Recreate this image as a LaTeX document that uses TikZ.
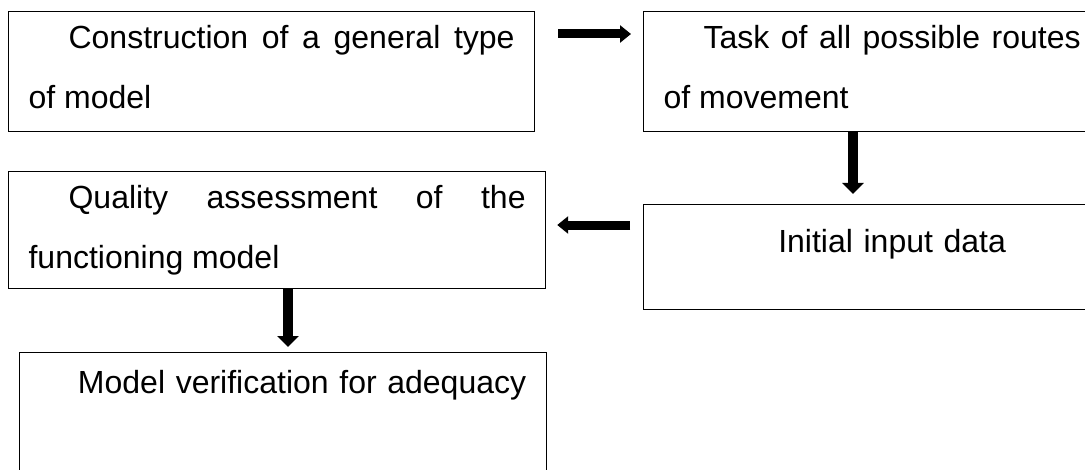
\documentclass[tikz,border=0pt]{standalone}
\usepackage{fontspec}
\setmainfont{Liberation Sans}
\usetikzlibrary{arrows.meta}

\begin{document}
\begin{tikzpicture}[
    box/.style={draw, line width=0.6pt, anchor=north west, inner xsep=10pt, inner ysep=0pt,
      text height=18.5pt, font=\fontsize{16pt}{30pt}\selectfont},
    fat/.style={line width=4.75pt, -{Triangle[length=5.5pt, width=10.5pt]}},
    fatside/.style={line width=4.5pt, -{Triangle[length=5.5pt, width=8.5pt]}}]
    \useasboundingbox (0,0) rectangle (542.5pt,-235pt);
    \clip (0,0) rectangle (542.5pt,-235pt);

    % Boxes
    \node[box, text width=243pt, text depth=41.5pt, align=justify] (construct) at (4pt,-5.5pt)
        {\hspace*{20pt}Construction of a general type\linebreak of model};
    \node[box, text width=208.5pt, text depth=41.5pt, align=justify] (routes) at (321.5pt,-5.5pt)
        {\hspace*{20pt}Task of all possible routes\linebreak of movement};
    \node[box, text width=208.5pt, text height=24pt, text depth=28.5pt, align=center] (inputdata) at (321.5pt,-102pt)
        {\hspace*{20pt}\mbox{Initial input data}};
    \node[box, text width=248.5pt, text depth=40pt, align=justify] (quality) at (4pt,-85.5pt)
        {\hspace*{20pt}Quality assessment of the\linebreak functioning model};
    \node[box, text width=243.5pt, text height=20.5pt, text depth=53.5pt, align=center] (verify) at (9.5pt,-176pt)
        {\hspace*{19pt}\mbox{Model verification for adequacy}};

    % Arrows
    \draw[fatside, shorten <=11.5pt, shorten >=6pt] ([yshift=-11.5pt]construct.north east) -- ([yshift=-11.5pt]routes.north west);
    \draw[fat, shorten >=5pt] ([xshift=105pt]routes.south west) -- ([xshift=105pt]routes.south west |- inputdata.north);
    \draw[fatside, shorten <=6.5pt, shorten >=5.5pt] ([yshift=-10.5pt]inputdata.north west) -- ([yshift=-10.5pt]inputdata.north west -| quality.east);
    \draw[fat, shorten >=2.5pt] ([xshift=140pt]quality.south west) -- ([xshift=140pt]quality.south west |- verify.north);
\end{tikzpicture}
\end{document}
